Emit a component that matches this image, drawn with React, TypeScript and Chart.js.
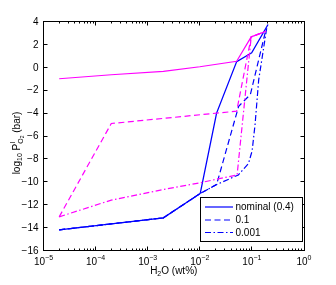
import React, { useEffect, useRef } from "react";
import { Chart, registerables } from "chart.js";

Chart.register(...registerables);

// ---------- data ----------
const blueSolidX = [2e-5, 2e-3, 0.0102, 0.021, 0.051, 0.099, 0.204];
const blueSolidY = [-14.2, -13.15, -11.02, -4.0, 0.5, 1.27, 3.74];

const blueDashX = [2e-5, 2e-3, 0.0102, 0.021, 0.0557, 0.0935, 0.186];
const blueDashY = [-14.2, -13.15, -11.02, -10.24, -3.4, -2.38, 3.3];

const blueDotX = [2e-5, 2e-3, 0.0102, 0.021, 0.055, 0.086, 0.101, 0.115, 0.135, 0.195];
const blueDotY = [-14.2, -13.15, -11.02, -10.24, -9.4, -8.4, -7.3, -5.0, -1.1, 3.6];

const magSolidX = [2e-5, 2e-4, 2e-3, 0.01, 0.051, 0.097, 0.187];
const magSolidY = [-1.0, -0.65, -0.35, 0.05, 0.53, 2.66, 3.15];

const magDashX = [2e-5, 2e-4, 0.051, 0.097, 0.187];
const magDashY = [-13.06, -4.91, -3.83, 2.66, 3.15];

const magDotX = [2e-5, 2e-4, 2e-3, 0.01, 0.052, 0.097, 0.187];
const magDotY = [-13.06, -11.6, -10.67, -10.09, -9.4, 2.66, 3.15];

const xMajorTicks = [1e-5, 1e-4, 1e-3, 1e-2, 1e-1, 1];
const xTickExponents = ["\u22125", "\u22124", "\u22123", "\u22122", "\u22121", "0"];
const yTicks = [-16, -14, -12, -10, -8, -6, -4, -2, 0, 2, 4];
const legendLabels = ["nominal (0.4)", "0.1", "0.001"];

const BLUE = "#0000ff";
const MAGENTA = "#ff00ff";
const DASH = [6, 3.5];
const DASHDOT = [6, 2.5, 1.5, 2.5];
const FONT = '"Liberation Sans", Arial, Helvetica, sans-serif';

const toPts = (xs: number[], ys: number[]) => xs.map((x, i) => ({ x, y: ys[i] }));

const bgPlugin = {
  id: "bg",
  beforeDraw(chart: any) {
    const { ctx, width, height } = chart;
    ctx.save();
    ctx.fillStyle = "#fff";
    ctx.fillRect(0, 0, width, height);
    ctx.restore();
  },
};

const decoPlugin = {
  id: "deco",
  afterDraw(chart: any) {
    const { ctx, chartArea: a } = chart;
    const xs = chart.scales.x;
    const ys = chart.scales.y;
    const L = Math.floor(a.left) + 0.5;
    const R = Math.floor(a.right) + 0.5;
    const T = Math.floor(a.top) + 0.5;
    const B = Math.floor(a.bottom) + 0.5;
    ctx.save();
    ctx.strokeStyle = "#000";
    ctx.lineWidth = 1;
    ctx.setLineDash([]);
    ctx.strokeRect(L, T, R - L, B - T);

    // x ticks (log, inward, top and bottom)
    ctx.beginPath();
    for (let e = -5; e <= 0; e++) {
      for (let m = 1; m <= 9; m++) {
        const v = m * Math.pow(10, e);
        if (v > 1.0000001) break;
        const px = Math.floor(xs.getPixelForValue(v)) + 0.5;
        const len = m === 1 ? 4 : 2;
        ctx.moveTo(px, B);
        ctx.lineTo(px, B - len);
        ctx.moveTo(px, T);
        ctx.lineTo(px, T + len);
      }
    }
    // y ticks
    for (const v of yTicks) {
      const py = Math.floor(ys.getPixelForValue(v)) + 0.5;
      ctx.moveTo(L, py);
      ctx.lineTo(L + 4, py);
      ctx.moveTo(R, py);
      ctx.lineTo(R - 4, py);
    }
    ctx.stroke();

    // y tick labels
    ctx.fillStyle = "#000";
    ctx.font = `10px ${FONT}`;
    ctx.textAlign = "right";
    ctx.textBaseline = "middle";
    for (const v of yTicks) {
      const py = ys.getPixelForValue(v);
      const s = v < 0 ? "\u2212" + Math.abs(v) : String(v);
      ctx.fillText(s, a.left - 5, py + 0.5);
    }

    // x tick labels 10^e
    ctx.textAlign = "left";
    ctx.textBaseline = "alphabetic";
    xMajorTicks.forEach((v, i) => {
      const px = xs.getPixelForValue(v);
      ctx.font = `10px ${FONT}`;
      const w1 = ctx.measureText("10").width;
      ctx.font = `7px ${FONT}`;
      const w2 = ctx.measureText(xTickExponents[i]).width;
      const x0 = px - (w1 + w2) / 2;
      ctx.font = `10px ${FONT}`;
      ctx.fillText("10", x0, a.bottom + 14);
      ctx.font = `7px ${FONT}`;
      ctx.fillText(xTickExponents[i], x0 + w1, a.bottom + 9);
    });

    // x title: H2O (wt%)
    {
      const parts: [string, number, number][] = [
        ["H", 10, 0],
        ["2", 7, 2.5],
        ["O (wt%)", 10, 0],
      ];
      let tw = 0;
      for (const [s, f] of parts) {
        ctx.font = `${f}px ${FONT}`;
        tw += ctx.measureText(s).width;
      }
      let cx = (a.left + a.right) / 2 - tw / 2;
      const by = a.bottom + 23;
      for (const [s, f, dy] of parts) {
        ctx.font = `${f}px ${FONT}`;
        ctx.fillText(s, cx, by + dy);
        cx += ctx.measureText(s).width;
      }
    }

    // y title: log10 P^l_O2 (bar), rotated
    {
      ctx.save();
      const cy = 143;
      ctx.translate(19.5, cy);
      ctx.rotate(-Math.PI / 2);
      const seg = (s: string, f: number) => {
        ctx.font = `${f}px ${FONT}`;
        return ctx.measureText(s).width;
      };
      const wLog = seg("log", 10);
      const w10 = seg("10", 7);
      const wP = seg(" P", 10);
      const wO = seg("O", 7);
      const wl = seg("l", 7);
      const w2 = seg("2", 5);
      const wBar = seg(" (bar)", 10);
      const total = wLog + w10 + wP + Math.max(wO + w2, wl) + wBar;
      let x = -total / 2;
      ctx.textAlign = "left";
      ctx.textBaseline = "alphabetic";
      ctx.font = `10px ${FONT}`;
      ctx.fillText("log", x, 0);
      x += wLog;
      ctx.font = `7px ${FONT}`;
      ctx.fillText("10", x, 2.5);
      x += w10;
      ctx.font = `10px ${FONT}`;
      ctx.fillText(" P", x, 0);
      x += wP;
      ctx.font = `7px ${FONT}`;
      ctx.fillText("l", x + 0.5, -5);
      ctx.fillText("O", x, 3);
      ctx.font = `5px ${FONT}`;
      ctx.fillText("2", x + wO, 4.5);
      x += Math.max(wO + w2, wl);
      ctx.font = `10px ${FONT}`;
      ctx.fillText(" (bar)", x, 0);
      ctx.restore();
    }

    // legend
    {
      const bx = 200.5, by = 197.5, bw = 102, bh = 44;
      ctx.fillStyle = "#fff";
      ctx.fillRect(bx, by, bw, bh);
      ctx.strokeStyle = "#000";
      ctx.lineWidth = 1;
      ctx.strokeRect(bx, by, bw, bh);
      const dashes = [[], DASH, DASHDOT];
      const rows = [207, 220, 232.5];
      ctx.font = `10px ${FONT}`;
      ctx.textAlign = "left";
      ctx.textBaseline = "middle";
      legendLabels.forEach((lab, i) => {
        ctx.strokeStyle = BLUE;
        ctx.lineWidth = 1.2;
        ctx.setLineDash(dashes[i] as number[]);
        ctx.beginPath();
        ctx.moveTo(205, rows[i]);
        ctx.lineTo(233, rows[i]);
        ctx.stroke();
        ctx.setLineDash([]);
        ctx.fillStyle = "#000";
        ctx.fillText(lab, 235.5, rows[i] + 0.5);
      });
    }
    ctx.restore();
  },
};

export default function App() {
  const ref = useRef<HTMLCanvasElement | null>(null);
  useEffect(() => {
    document.body.style.margin = "0";
    const canvas = ref.current;
    if (!canvas) return;
    const ds = (xs: number[], ys: number[], color: string, dash: number[], w: number) => ({
      data: toPts(xs, ys),
      borderColor: color,
      backgroundColor: color,
      borderWidth: w,
      borderDash: dash,
      pointRadius: 0,
      tension: 0,
      fill: false,
    });
    const chart = new Chart(canvas, {
      type: "line",
      data: {
        datasets: [
          ds(magDotX, magDotY, MAGENTA, DASHDOT, 1.2),
          ds(magDashX, magDashY, MAGENTA, DASH, 1.2),
          ds(magSolidX, magSolidY, MAGENTA, [], 1.2),
          ds(blueDotX, blueDotY, BLUE, DASHDOT, 1.2),
          ds(blueDashX, blueDashY, BLUE, DASH, 1.2),
          ds(blueSolidX, blueSolidY, BLUE, [], 1.3),
        ] as any,
      },
      options: {
        responsive: false,
        animation: false,
        devicePixelRatio: 1,
        layout: { padding: { left: 43.5, top: 21.5, right: 32, bottom: 34.5 } },
        scales: {
          x: { type: "logarithmic", min: 1e-5, max: 1, display: false },
          y: { type: "linear", min: -16, max: 4, display: false },
        },
        plugins: {
          legend: { display: false },
          tooltip: { enabled: false },
        },
        elements: { point: { radius: 0 } },
      } as any,
      plugins: [bgPlugin, decoPlugin],
    });
    return () => chart.destroy();
  }, []);
  return (
    <div style={{ width: 336, height: 285 }}>
      <canvas ref={ref} width={336} height={285} style={{ display: "block", width: 336, height: 285 }} />
    </div>
  );
}
